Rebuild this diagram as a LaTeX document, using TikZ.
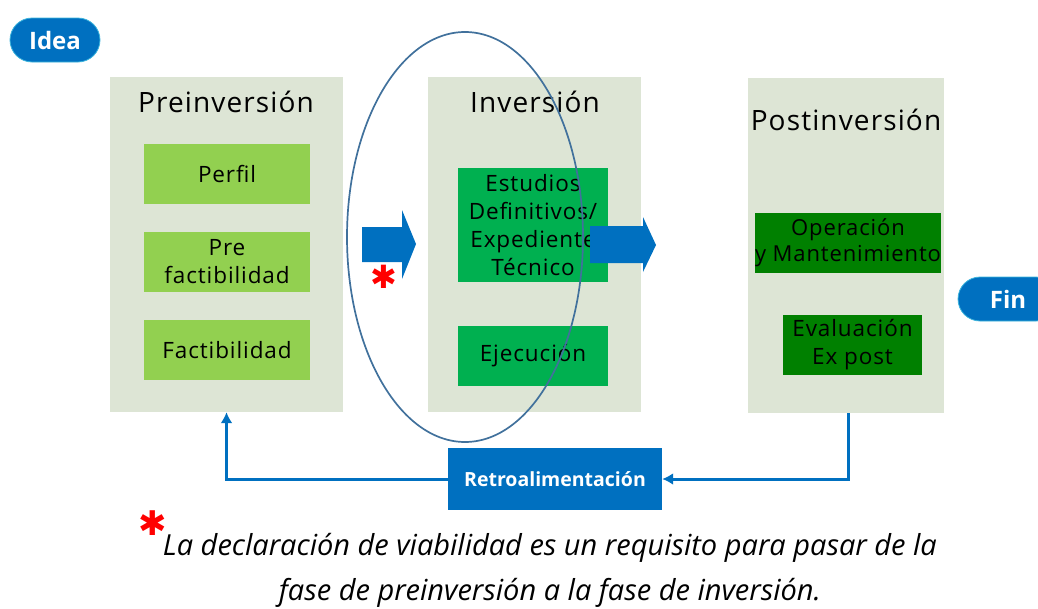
\documentclass[tikz,border=0pt]{standalone}
\usepackage{fontspec}
\setmainfont{Open Sans}
\newfontfamily\simbolos{DejaVu Sans}
\newfontfamily\ancha[LetterSpace=4]{Open Sans}
\usetikzlibrary{arrows.meta}
\begin{document}
\begin{tikzpicture}[x=1pt,y=-1pt,
    panel/.style={fill=panelgris,inner sep=0pt,minimum height=335pt},
    titulo/.style={font=\ancha\fontsize{28}{32}\selectfont},
    caja/.style={inner sep=0pt,align=center,minimum height=60pt,
      font=\ancha\fontsize{22.5}{28}\selectfont},
    pastilla/.style={fill=azul,draw=celeste,line width=0.8pt,rounded corners=22pt,
      minimum height=44pt,text=white,font=\bfseries\fontsize{24}{26}\selectfont},
    retro/.style={azul,line width=3pt,-{Latex[length=11pt,width=12pt]}},
    estrella/.style={text=red,inner sep=0pt,font=\simbolos\bfseries}]
    %colores
    \colorlet{panelgris}{rgb,255:red,221;green,229;blue,213}
    \definecolor{azul}{RGB}{0,112,192}
    \definecolor{celeste}{RGB}{60,180,220}
    \definecolor{verdeclaro}{RGB}{146,208,80}
    \definecolor{verdemedio}{RGB}{0,176,80}
    \definecolor{verdeoscuro}{RGB}{0,128,0}
    \definecolor{elipse}{RGB}{65,113,156}

    \useasboundingbox (0,0) rectangle (1038,608);

    % Idea y Fin
    \node[pastilla,minimum width=90pt] (idea) at (55,40) {Idea};
    \node[pastilla,minimum width=100pt] (fin) at (1008,299) {Fin};

    % Fases
    \node[panel,minimum width=233pt] (pre) at (226.5,244.5) {};
    \node[panel,minimum width=213pt] (inv) at (534.5,244.5) {};
    \node[panel,minimum width=196pt] (post) at (846,245.5) {};
    \node[titulo] (tpre) at (226,102) {Preinversión};
    \node[titulo] (tinv) at (535,102) {Inversión};
    \node[titulo] (tpost) at (846,120) {Postinversión};

    % Preinversion
    \node[caja,fill=verdeclaro,minimum width=166pt] (perfil) at (227,174) {Perfil};
    \node[caja,fill=verdeclaro,minimum width=166pt] (prefact) at (227,262) {Pre\\factibilidad};
    \node[caja,fill=verdeclaro,minimum width=166pt] (fact) at (227,350) {Factibilidad};

    % Inversion
    \node[caja,fill=verdemedio,minimum width=150pt,minimum height=114pt] (estudios) at (533,225)
      {Estudios\\Definitivos/\\Expediente\\Técnico};
    \node[caja,fill=verdemedio,minimum width=150pt] (ejec) at (533,356) {Ejecución};

    % Postinversion
    \node[caja,fill=verdeoscuro,minimum width=184pt,font=\ancha\fontsize{22}{26}\selectfont] (oper) at (848,243)
      {Operación\\y Mantenimiento};
    \node[caja,fill=verdeoscuro,minimum width=139pt] (eval) at (852.5,345) {Evaluación\\Ex post};

    % Flechas de bloque
    \fill[azul] (362,227) -- (402,227) -- (402,210) -- (416,244) -- (402,279)
      -- (402,262) -- (362,262) -- cycle;
    \fill[azul] (590,226) -- (643,226) -- (643,217) -- (656,245) -- (643,272)
      -- (643,263) -- (590,263) -- cycle;
    \node[estrella,font=\simbolos\bfseries\fontsize{32}{32}\selectfont] (ast) at (384,277) {✱};

    % Elipse
    \draw[elipse,line width=1.7pt] (465,237) ellipse (118 and 205);

    % Retroalimentacion
    \node[fill=azul,minimum width=214pt,minimum height=62pt,inner sep=0pt,text=white,
      font=\bfseries\fontsize{19.5}{22}\selectfont] (retroal) at (555,479) {Retroalimentación};
    \draw[retro] ([xshift=2pt]post.south) |- (retroal.east);
    \draw[retro] (retroal.west) -| (pre.south);

    % Nota
    \node[estrella,font=\simbolos\bfseries\fontsize{34}{34}\selectfont] (ast2) at (153,523) {✱};
    \node[align=center,inner sep=0pt,font=\itshape\fontsize{29}{45}\selectfont] (nota) at (550,570)
      {La declaración de viabilidad es un requisito para pasar de la\\
       fase de preinversión a la fase de inversión.};
\end{tikzpicture}
\end{document}
